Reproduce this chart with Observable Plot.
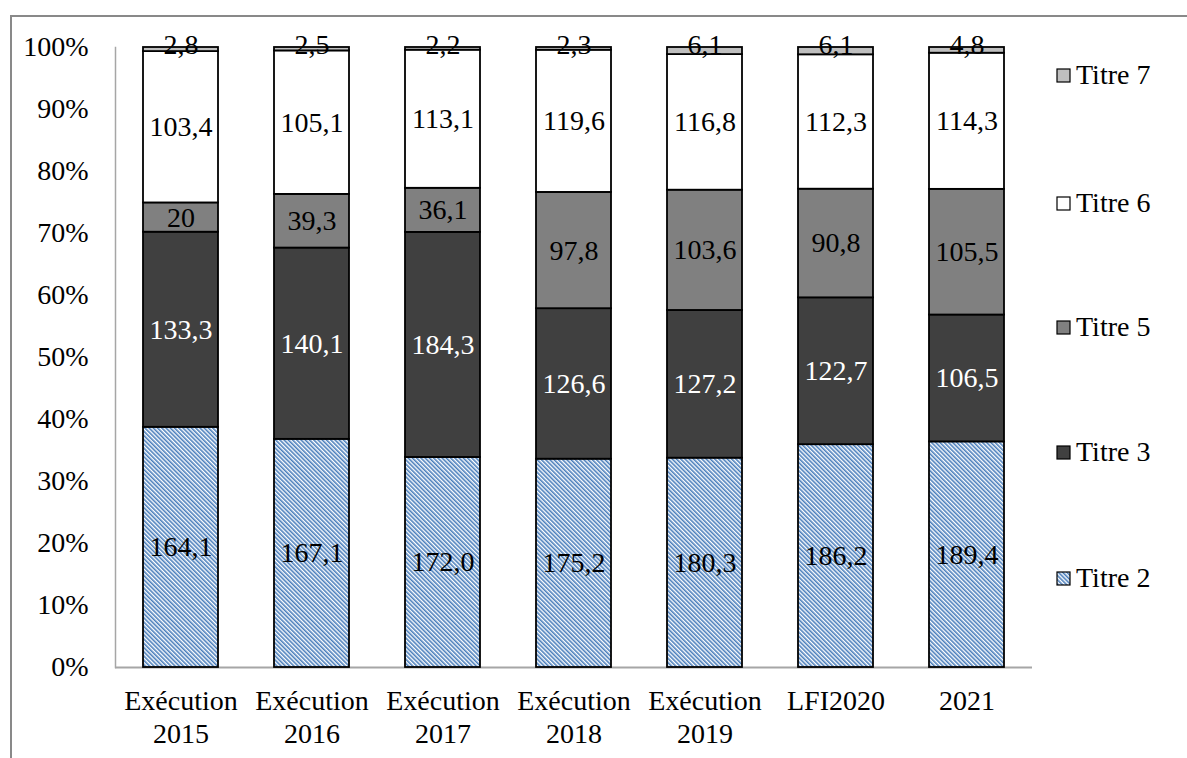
<!DOCTYPE html>
<html>
<head>
<meta charset="utf-8">
<script src="https://cdn.jsdelivr.net/npm/d3@7"></script>
<script src="https://cdn.jsdelivr.net/npm/@observablehq/plot@0.6"></script>
<style>
  body { margin: 0; background: #fff; }
  #wrap { position: relative; width: 1187px; height: 758px; overflow: hidden; background: #fff; }
  #frame { position: absolute; left: 10px; top: 15px; width: 1400px; height: 1000px;
           border-top: 2px solid #898989; border-left: 2px solid #898989; box-sizing: border-box; }
  #chart { position: absolute; left: 0; top: 0; }
  .leg { position: absolute; left: 1056px; height: 30px; display: flex; align-items: center;
         font-family: "Liberation Serif", serif; font-size: 28px; color: #000; white-space: nowrap; }
  .leg svg { margin-right: 5px; }
</style>
</head>
<body>
<div id="wrap">
  <div id="frame"></div>
  <div id="chart"></div>
</div>
<script>
// ---- data (as displayed in the reference) ----
const categories = ["Exécution\n2015", "Exécution\n2016", "Exécution\n2017", "Exécution\n2018", "Exécution\n2019", "LFI2020", "2021"];
const seriesNames = ["Titre 2", "Titre 3", "Titre 5", "Titre 6", "Titre 7"];
const titre2 = ["164,1", "167,1", "172,0", "175,2", "180,3", "186,2", "189,4"];
const titre3 = ["133,3", "140,1", "184,3", "126,6", "127,2", "122,7", "106,5"];
const titre5 = ["20", "39,3", "36,1", "97,8", "103,6", "90,8", "105,5"];
const titre6 = ["103,4", "105,1", "113,1", "119,6", "116,8", "112,3", "114,3"];
const titre7 = ["2,8", "2,5", "2,2", "2,3", "6,1", "6,1", "4,8"];
const yTicks = [0, 0.1, 0.2, 0.3, 0.4, 0.5, 0.6, 0.7, 0.8, 0.9, 1];
const seriesColors = ["url(#hatch)", "#404040", "#808080", "#ffffff", "#bfbfbf"];

const seriesLabels = [titre2, titre3, titre5, titre6, titre7];
const rows = [];
categories.forEach((cat, i) => {
  seriesNames.forEach((s, j) => {
    const label = seriesLabels[j][i];
    rows.push({cat, series: s, label, value: +label.replace(",", ".")});
  });
});

const FONT = "'Liberation Serif', serif";
const stackOpts = {x: "cat", y: "value", z: "series", order: seriesNames, offset: "normalize"};

const plot = Plot.plot({
  width: 1187,
  height: 758,
  marginLeft: 115,
  marginRight: 155,
  marginTop: 47,
  marginBottom: 91,
  style: {fontFamily: FONT, fontSize: "28px", color: "#000", background: "transparent", overflow: "visible"},
  x: {type: "band", domain: categories, paddingInner: 0.427, paddingOuter: 0.2135, label: null},
  y: {domain: [0, 1], label: null},
  color: {type: "ordinal", domain: seriesNames, range: seriesColors},
  marks: [
    Plot.ruleY([0], {stroke: "#a6a6a6", strokeWidth: 2}),
    Plot.frame({anchor: "left", stroke: "#a6a6a6", strokeWidth: 1.5}),
    Plot.axisY({ticks: yTicks, tickFormat: d3.format(".0%"), tickSize: 0, tickPadding: 27, fontSize: 28, label: null}),
    Plot.axisX({tickSize: 0, tickPadding: 19, fontSize: 28, lineHeight: 1.18, label: null}),
    Plot.barY(rows, {...stackOpts, fill: "series", stroke: "#000", strokeWidth: 1.8}),
    Plot.text(rows, Plot.stackY({...stackOpts,
      text: d => (d.series === "Titre 2" || d.series === "Titre 5" || d.series === "Titre 6") ? d.label : null,
      fill: "#000", fontSize: 28})),
    Plot.text(rows, Plot.stackY({...stackOpts,
      text: d => d.series === "Titre 3" ? d.label : null,
      fill: "#fff", fontSize: 28})),
    Plot.text(rows, Plot.stackY2({...stackOpts,
      text: d => d.series === "Titre 7" ? d.label : null,
      fill: "#000", fontSize: 28, lineAnchor: "bottom", dy: 6}))
  ]
});

// hatch pattern for Titre 2
const defs = d3.select(plot).insert("defs", ":first-child");
const pat = defs.append("pattern").attr("id", "hatch").attr("patternUnits", "userSpaceOnUse")
  .attr("width", 3).attr("height", 3).attr("patternTransform", "rotate(-45)");
pat.append("rect").attr("width", 3).attr("height", 3).attr("fill", "#ffffff");
pat.append("rect").attr("width", 1.6).attr("height", 3).attr("fill", "#4a7ebb");

document.getElementById("chart").appendChild(plot);

// legend
const legendY = {"Titre 7": 75, "Titre 6": 203, "Titre 5": 327, "Titre 3": 452, "Titre 2": 578};
const wrap = document.getElementById("wrap");
seriesNames.slice().reverse().forEach(s => {
  const j = seriesNames.indexOf(s);
  const div = document.createElement("div");
  div.className = "leg";
  div.style.top = (legendY[s] - 15) + "px";
  const sw = d3.create("svg").attr("width", 15).attr("height", 15);
  const d = sw.append("defs").append("pattern").attr("id", "hatchL" + j).attr("patternUnits", "userSpaceOnUse")
    .attr("width", 3).attr("height", 3).attr("patternTransform", "rotate(-45)");
  d.append("rect").attr("width", 3).attr("height", 3).attr("fill", "#fff");
  d.append("rect").attr("width", 1.6).attr("height", 3).attr("fill", "#4a7ebb");
  sw.append("rect").attr("x", 1).attr("y", 1).attr("width", 13).attr("height", 13)
    .attr("fill", seriesColors[j] === "url(#hatch)" ? `url(#hatchL${j})` : seriesColors[j])
    .attr("stroke", "#000").attr("stroke-width", 1.2);
  div.appendChild(sw.node());
  const t = document.createElement("span");
  t.textContent = s;
  div.appendChild(t);
  wrap.appendChild(div);
});
</script>
</body>
</html>
